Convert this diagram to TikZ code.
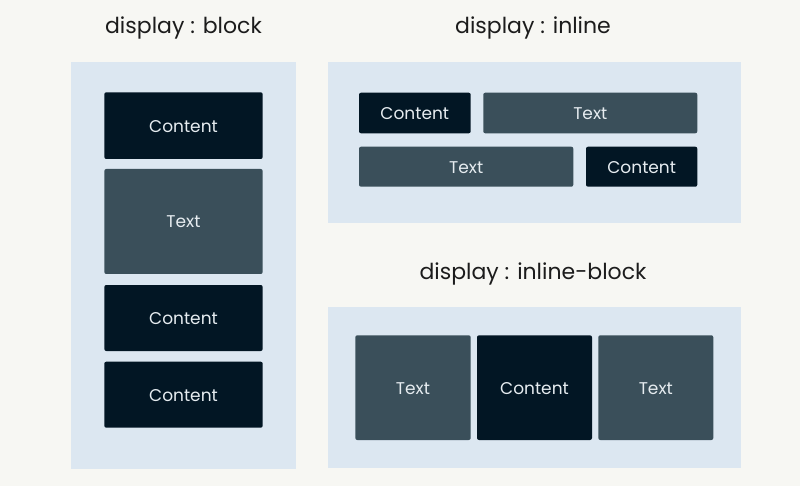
\documentclass[tikz,border=0pt]{standalone}
\usepackage{fontspec}
\setmainfont{Poppins}
\definecolor{bgc}{HTML}{F7F7F3}
\definecolor{panelc}{HTML}{DCE7F1}
\definecolor{darkc}{HTML}{021624}
\definecolor{slatec}{HTML}{3A4F5A}
\definecolor{labelc}{HTML}{E6ECF0}
\definecolor{titlec}{HTML}{1C1C1C}
\begin{document}
\begin{tikzpicture}[x=1pt,y=-1pt,
  panel/.style={fill=panelc},
  darkbox/.style={fill=darkc,rounded corners=2pt},
  slatebox/.style={fill=slatec,rounded corners=2pt},
  lbl/.style={text=labelc,font=\fontsize{17}{20}\selectfont},
  ttl/.style={text=titlec,font=\fontsize{22}{26}\selectfont}]
\fill[bgc] (0,0) rectangle (800,486);
\useasboundingbox (0,0) rectangle (800,486);
% panels
\fill[panel] (71,62) rectangle (296,469);
\fill[panel] (328,62) rectangle (740.7,222.7);
\fill[panel] (328,307.3) rectangle (740.7,468.3);
% titles
\node[ttl] (t1) at (183.5,27.5) {display : block};
\node[ttl] (t2) at (533,27.5) {display : inline};
\node[ttl] (t3) at (533,273.5) {display : inline-block};
% block
\fill[darkbox] (104.3,92.3) rectangle (262.7,159);
\fill[slatebox] (104.3,169) rectangle (262.7,274);
\fill[darkbox] (104.3,285) rectangle (262.7,351);
\fill[darkbox] (104.3,361.7) rectangle (262.7,427.7);
\node[lbl] (b1) at (183.5,126.2) {Content};
\node[lbl] (b2) at (183.5,222) {Text};
\node[lbl] (b3) at (183.5,318.5) {Content};
\node[lbl] (b4) at (183.5,395.2) {Content};
% inline
\fill[darkbox] (359,92.7) rectangle (470.7,133.3);
\fill[slatebox] (483.3,92.7) rectangle (697.3,133.3);
\fill[slatebox] (359,146.7) rectangle (573.3,186.7);
\fill[darkbox] (586,146.7) rectangle (697.3,186.7);
\node[lbl] (i1) at (414.8,113.5) {Content};
\node[lbl] (i2) at (590.3,113.5) {Text};
\node[lbl] (i3) at (466.2,167.2) {Text};
\node[lbl] (i4) at (641.7,167.2) {Content};
% inline-block
\fill[slatebox] (355.3,335.3) rectangle (470.7,440);
\fill[darkbox] (477,335.3) rectangle (592,440);
\fill[slatebox] (598.3,335.3) rectangle (713.3,440);
\node[lbl] (k1) at (413,388.2) {Text};
\node[lbl] (k2) at (534.5,388.2) {Content};
\node[lbl] (k3) at (655.8,388.2) {Text};
\end{tikzpicture}
\end{document}
